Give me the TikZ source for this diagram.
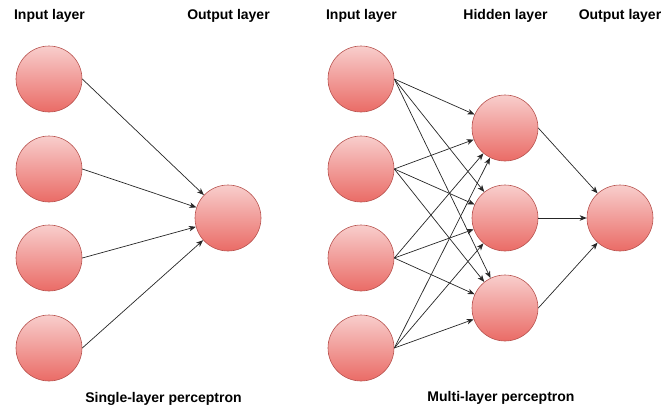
\documentclass[tikz,border=0pt]{standalone}
\usepackage{fontspec}
\setmainfont{Liberation Sans}
\usetikzlibrary{arrows.meta}
\definecolor{nodetop}{HTML}{F8CECC}
\definecolor{nodebot}{HTML}{EA6B66}
\definecolor{nodeline}{HTML}{B85450}
\tikzset{
  neuron/.style={circle, minimum size=66pt, inner sep=0pt, draw=nodeline, line width=0.6pt,
    top color=nodetop, bottom color=nodebot},
  heading/.style={font=\fontsize{14pt}{16pt}\selectfont\bfseries, text=black, inner sep=0pt},
  wire/.style={draw=black!85, line width=0.7pt, -{Stealth[length=7pt,width=5.5pt,inset=2pt]}},
}
\begin{document}
\begin{tikzpicture}[x=1pt,y=-1pt]
\useasboundingbox (0,0) rectangle (662,410);

% headings
\node[heading] (t1) at (49.5,16) {Input layer};
\node[heading] (t2) at (228.5,16) {Output layer};
\node[heading] (t3) at (361.5,16) {Input layer};
\node[heading] (t4) at (505.5,16) {Hidden layer};
\node[heading] (t5) at (620,16) {Output layer};
\node[heading] (c1) at (163.5,399) {Single-layer perceptron};
\node[heading] (c2) at (501,398) {Multi-layer perceptron};

% single-layer perceptron
\foreach \i/\y in {1/79,2/169,3/258,4/348}
  \node[neuron] (a\i) at (49,\y) {};
\node[neuron] (ao) at (228,218) {};
\foreach \i in {1,...,4}
  \draw[wire] (a\i.east) -- (ao);

% multi-layer perceptron
\foreach \i/\y in {1/79,2/169,3/258,4/348}
  \node[neuron] (b\i) at (361,\y) {};
\foreach \j/\y in {1/128,2/218,3/308}
  \node[neuron] (h\j) at (505,\y) {};
\node[neuron] (bo) at (620,218) {};
\foreach \i in {1,...,4}
  \foreach \j in {1,2,3}
    \draw[wire] (b\i.east) -- (h\j);
\foreach \j in {1,2,3}
  \draw[wire] (h\j.east) -- (bo);
\end{tikzpicture}
\end{document}
